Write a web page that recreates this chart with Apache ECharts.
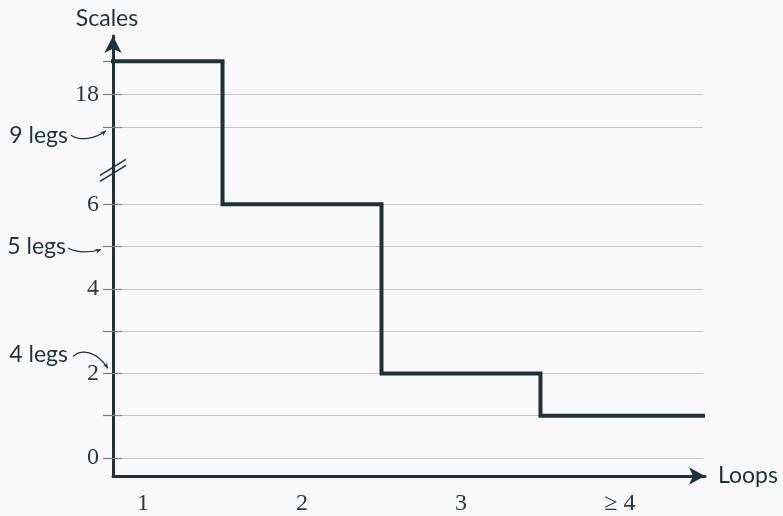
<!DOCTYPE html>
<html>
<head>
<meta charset="utf-8">
<script src="https://cdn.jsdelivr.net/npm/echarts@6/dist/echarts.min.js"></script>
<style>
  html, body { margin: 0; padding: 0; background: #f9f9f9; }
  #chart { width: 783px; height: 516px; }
</style>
</head>
<body>
<div id="chart"></div>
<script>
// Number of scales needed per loop order
const loops = ['1', '2', '3', '\u2265 4'];
const scales = [27, 6, 2, 1];

// Y axis: ticks, labelled values and grid lines (in real scale counts)
const yTickValues = [0, 1, 2, 3, 4, 5, 6, 9, 18, 27];
const yLabelValues = [0, 2, 4, 6, 18];
const gridValues = [0, 1, 2, 3, 4, 5, 6, 9, 18];

// Annotated ticks on the y axis
const notes = [
  { text: '9 legs', at: 9 },
  { text: '5 legs', at: 5 },
  { text: '4 legs', at: 2 }
];

// Broken y scale: 0..6 linear, then a compressed section from 9 upwards
const LOW_TOP = 6;
const HIGH_BASE = 9;
const HIGH_BASE_POS = 7.82;
const HIGH_UNIT = 0.0865;
const BREAK_POS = 6.8;

function toAxis(v) {
  return v <= LOW_TOP ? v : HIGH_BASE_POS + (v - HIGH_BASE) * HIGH_UNIT;
}
function fromAxis(d) {
  return d <= LOW_TOP + 0.5 ? d : HIGH_BASE + (d - HIGH_BASE_POS) / HIGH_UNIT;
}

const X_MIN = 0.811, X_MAX = 4.535, X_END = 4.522;
const Y_MIN = -0.4245, Y_MAX = 9.976;

const ink = '#1f323a';
const serif = '"Liberation Serif", "DejaVu Serif", serif';
const sans = 'Lato, "Open Sans", sans-serif';

// Step line data: one point per loop order, extended to both ends of the axis
const stepData = [[X_MIN, toAxis(scales[0])]]
  .concat(scales.map((s, i) => [i + 1, toAxis(s)]))
  .concat([[X_END, toAxis(scales[scales.length - 1])]]);

const gridLines = gridValues.map(v => [
  { coord: [X_MIN, toAxis(v)] },
  { coord: [X_END, toAxis(v)] }
]);
// inner half of each tick mark, crossing the axis
const innerTicks = yTickValues.map(v => [
  { coord: [X_MIN, toAxis(v)] },
  { coord: [X_MIN + 0.057, toAxis(v)] }
]);

const chart = echarts.init(document.getElementById('chart'), null, { renderer: 'canvas' });

chart.setOption({
  backgroundColor: '#f9f9f9',
  animation: false,
  grid: { left: 113, right: 78, top: 36, bottom: 39 },
  xAxis: {
    type: 'value',
    min: X_MIN,
    max: X_MAX,
    name: 'Loops',
    nameLocation: 'end',
    nameGap: 13,
    nameTextStyle: { fontFamily: sans, fontSize: 23, color: ink, verticalAlign: 'middle' },
    axisLine: {
      onZero: false,
      lineStyle: { color: ink, width: 3 },
      symbol: ['none', 'arrow'],
      symbolSize: [13, 16],
      symbolOffset: [0, 0]
    },
    axisTick: { show: false },
    splitLine: { show: false },
    axisLabel: {
      customValues: loops.map((_, i) => i + 1),
      formatter: v => loops[Math.round(v) - 1],
      fontFamily: serif,
      fontSize: 24,
      color: '#2a3a40',
      margin: 16
    }
  },
  yAxis: {
    type: 'value',
    min: Y_MIN,
    max: Y_MAX,
    name: 'Scales',
    nameLocation: 'end',
    nameGap: 6,
    nameTextStyle: {
      fontFamily: sans, fontSize: 23, color: ink, align: 'center',
      padding: [0, 12, 0, 0]
    },
    axisLine: {
      show: true,
      onZero: false,
      lineStyle: { color: ink, width: 3 },
      symbol: ['none', 'arrow'],
      symbolSize: [13, 17],
      symbolOffset: [0, 0]
    },
    axisTick: {
      show: true,
      customValues: yTickValues.map(toAxis),
      length: 10,
      lineStyle: { color: '#777', width: 1.2 }
    },
    splitLine: { show: false },
    axisLabel: {
      customValues: yLabelValues.map(toAxis),
      formatter: v => String(Math.round(fromAxis(v))),
      fontFamily: serif,
      fontSize: 24,
      color: '#2a3a40',
      margin: 14
    }
  },
  series: [
    {
      type: 'line',
      data: [],
      silent: true,
      markLine: {
        silent: true,
        z: 1,
        symbol: ['none', 'none'],
        label: { show: false },
        lineStyle: { color: '#c6c6c6', width: 1, type: 'solid' },
        emphasis: { disabled: true },
        data: gridLines
      }
    },
    {
      type: 'line',
      data: [],
      silent: true,
      markLine: {
        silent: true,
        z: 2,
        symbol: ['none', 'none'],
        label: { show: false },
        lineStyle: { color: '#888', width: 1.2, type: 'solid' },
        emphasis: { disabled: true },
        data: innerTicks
      }
    },
    {
      type: 'line',
      step: 'middle',
      z: 5,
      data: stepData,
      symbol: 'none',
      silent: true,
      clip: false,
      lineStyle: { color: ink, width: 4, cap: 'square', join: 'miter' }
    }
  ]
});

// Annotations and the axis break mark, placed from the axis scale
function px(x, y) { return chart.convertToPixel({ gridIndex: 0 }, [x, y]); }

const graphics = [];

// break mark: two short parallel strokes across the y axis
const bp = px(X_MIN, BREAK_POS);
[-3, 3].forEach(dy => {
  graphics.push({
    type: 'line',
    shape: { x1: bp[0] - 13, y1: bp[1] + dy + 8, x2: bp[0] + 13, y2: bp[1] + dy - 8 },
    style: { stroke: ink, lineWidth: 1.5 },
    z: 10
  });
});

// per-note geometry: text anchor and curve offsets from the tick point
const noteShapes = {
  '9 legs': { text: [-45, 8], start: [-42, 8], c1: [-33, 14], c2: [-18, 12], tip: [-7, 3.5] },
  '5 legs': { text: [-47, 0], start: [-45, 1.5], c1: [-35, 7], c2: [-21, 6], tip: [-12, 3] },
  '4 legs': { text: [-45, -19], start: [-40, -17], c1: [-31, -25], c2: [-16, -22], tip: [-5, -5] }
};

notes.forEach(n => {
  const p = px(X_MIN, toAxis(n.at));
  const g = noteShapes[n.text];
  const x0 = p[0], y0 = p[1];
  graphics.push({
    type: 'text',
    style: {
      text: n.text, x: x0 + g.text[0], y: y0 + g.text[1],
      align: 'right', verticalAlign: 'middle',
      font: '23px ' + sans, fill: ink
    },
    z: 10
  });
  const sx = x0 + g.start[0], sy = y0 + g.start[1];
  const c1x = x0 + g.c1[0], c1y = y0 + g.c1[1];
  const c2x = x0 + g.c2[0], c2y = y0 + g.c2[1];
  const tx = x0 + g.tip[0], ty = y0 + g.tip[1];
  graphics.push({
    type: 'bezierCurve',
    shape: { x1: sx, y1: sy, cpx1: c1x, cpy1: c1y, cpx2: c2x, cpy2: c2y, x2: tx, y2: ty },
    style: { stroke: ink, lineWidth: 1.2, fill: null },
    z: 10
  });
  // arrow head pointing along the curve's final direction
  const ang = Math.atan2(ty - c2y, tx - c2x);
  const L = 6, W = 2.6;
  const bx = tx - L * Math.cos(ang), by = ty - L * Math.sin(ang);
  graphics.push({
    type: 'polygon',
    shape: {
      points: [
        [tx, ty],
        [bx + W * Math.sin(ang), by - W * Math.cos(ang)],
        [tx - 0.6 * L * Math.cos(ang), ty - 0.6 * L * Math.sin(ang)],
        [bx - W * Math.sin(ang), by + W * Math.cos(ang)]
      ]
    },
    style: { fill: ink },
    z: 10
  });
});

chart.setOption({ graphic: graphics });
</script>
</body>
</html>
